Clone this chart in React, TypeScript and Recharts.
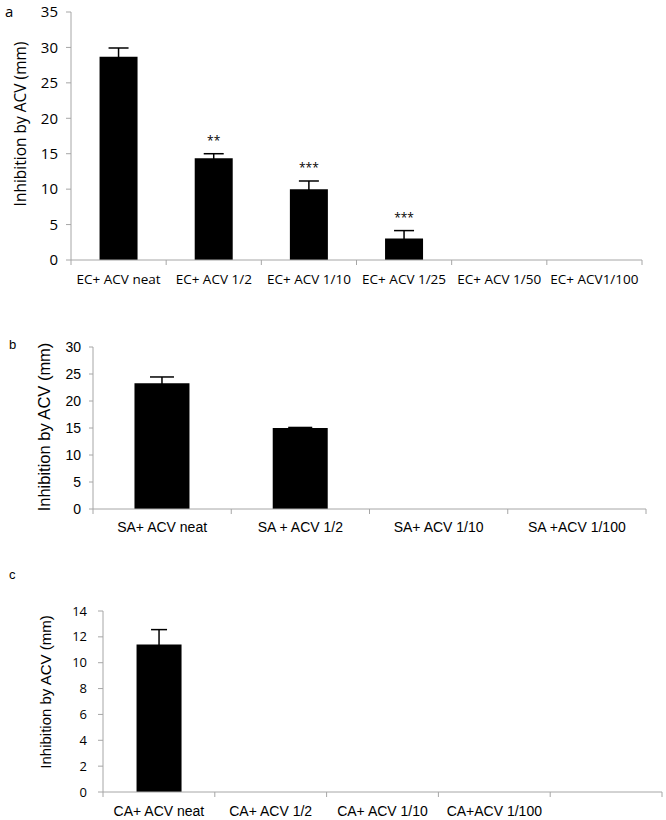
import React from 'react';
import { BarChart, Bar, XAxis, YAxis, ErrorBar, LabelList, Label } from 'recharts';

// panel a: E. coli
const catsA = ['EC+ ACV neat', 'EC+ ACV 1/2', 'EC+ ACV 1/10', 'EC+ ACV 1/25', 'EC+ ACV 1/50', 'EC+ ACV1/100'];
const valsA = [28.7, 14.35, 10.0, 3.05, 0, 0];
const errsA = [1.22, 0.65, 1.15, 1.1, null, null];
const sigA = ['', '**', '***', '***', '', ''];
const ticksA = [0, 5, 10, 15, 20, 25, 30, 35];

// panel b: S. aureus
const catsB = ['SA+ ACV neat', 'SA + ACV 1/2', 'SA+ ACV 1/10', 'SA +ACV 1/100'];
const valsB = [23.3, 15.0, 0, 0];
const errsB = [1.15, 0.1, null, null];
const ticksB = [0, 5, 10, 15, 20, 25, 30];

// panel c: C. albicans
const catsC = ['CA+ ACV neat', 'CA+ ACV 1/2', 'CA+ ACV 1/10', 'CA+ACV 1/100', ''];
const valsC = [11.4, 0, 0, 0, null];
const errsC = [1.16, null, null, null, null];
const ticksC = [0, 2, 4, 6, 8, 10, 12, 14];

const AXIS = '#a6a6a6';
const CALIBRI = 'Open Sans, sans-serif';
const ARIAL = 'Liberation Sans, Arial, sans-serif';
const YLABEL = 'Inhibition by ACV (mm)';

const dataA = catsA.map((name, i) => ({ name, value: valsA[i], err: errsA[i], sig: sigA[i] }));
const dataB = catsB.map((name, i) => ({ name, value: valsB[i], err: errsB[i] }));
const dataC = catsC.map((name, i) => ({ name, value: valsC[i], err: errsC[i] }));

// category ticks sit on the band edges, like Excel
const xTick = (band: number, n: number, family: string, size: number, dy: number) => (props: any) => {
  const { x, y, payload, index } = props;
  return (
    <g>
      <line x1={x - band / 2} x2={x - band / 2} y1={y} y2={y + 5} stroke={AXIS} />
      {index === n - 1 && <line x1={x + band / 2} x2={x + band / 2} y1={y} y2={y + 5} stroke={AXIS} />}
      <text x={x} y={y + dy} textAnchor="middle" fontFamily={family} fontSize={size} fill="#000">
        {payload.value}
      </text>
    </g>
  );
};

const starLabel = (vals: (number | null)[], errs: (number | null)[]) => (props: any) => {
  const { x, y, width, height, value, index } = props;
  if (!value) return null;
  const v = vals[index] || 1;
  const top = y - (errs[index] ?? 0) * (height / v);
  return (
    <text x={x + width / 2} y={top - 9} textAnchor="middle" fontFamily={CALIBRI} fontSize={12} fill="#000">
      {value}
    </text>
  );
};

const yLabel = (cx: number, cy: number, family: string, size: number) => () => (
  <text
    x={cx}
    y={cy}
    transform={`rotate(-90, ${cx}, ${cy})`}
    textAnchor="middle"
    dominantBaseline="central"
    fontFamily={family}
    fontSize={size}
    fill="#000"
  >
    {YLABEL}
  </text>
);

export default function App() {
  return (
    <div style={{ position: 'absolute', left: 0, top: 0, width: 666, height: 820, background: '#fff' }}>
      <div style={{ position: 'absolute', left: 0, top: 0 }}>
        <BarChart width={666} height={300} data={dataA} margin={{ top: 12, right: 24, bottom: 0, left: 0 }} barCategoryGap="30%">
          <XAxis
            dataKey="name"
            height={40}
            interval={0}
            stroke={AXIS}
            tickLine={false}
            tickSize={0}
            tickMargin={0}
            tick={xTick(571 / 6, 6, CALIBRI, 13.5, 24)}
          />
          <YAxis
            width={71}
            domain={[0, 35]}
            ticks={ticksA}
            stroke={AXIS}
            tickSize={5}
            tickMargin={8}
            tick={{ fill: '#000', fontFamily: CALIBRI, fontSize: 15 }}
          >
            <Label content={yLabel(20, 124, CALIBRI, 15.5)} />
          </YAxis>
          <Bar dataKey="value" fill="#000" isAnimationActive={false}>
            <ErrorBar dataKey="err" width={10} stroke="#000" strokeWidth={1.5} />
            <LabelList dataKey="sig" content={starLabel(valsA, errsA)} />
          </Bar>
        </BarChart>
      </div>

      <div style={{ position: 'absolute', left: 0, top: 320 }}>
        <BarChart width={666} height={230} data={dataB} margin={{ top: 27, right: 20, bottom: 0, left: 0 }} barCategoryGap="30%">
          <XAxis
            dataKey="name"
            height={41}
            interval={0}
            stroke={AXIS}
            tickLine={false}
            tickSize={0}
            tickMargin={0}
            tick={xTick(553 / 4, 4, ARIAL, 14, 23)}
          />
          <YAxis
            width={93}
            domain={[0, 30]}
            ticks={ticksB}
            stroke={AXIS}
            tickSize={4}
            tickMargin={8}
            tick={{ fill: '#000', fontFamily: ARIAL, fontSize: 14 }}
          >
            <Label content={yLabel(44, 107, ARIAL, 16.5)} />
          </YAxis>
          <Bar dataKey="value" fill="#000" isAnimationActive={false}>
            <ErrorBar dataKey="err" width={12} stroke="#000" strokeWidth={1.5} />
          </Bar>
        </BarChart>
      </div>

      <div style={{ position: 'absolute', left: 0, top: 560 }}>
        <BarChart width={666} height={260} data={dataC} margin={{ top: 51, right: 4, bottom: 0, left: 0 }} barCategoryGap="30%">
          <XAxis
            dataKey="name"
            height={28}
            interval={0}
            stroke={AXIS}
            tickLine={false}
            tickSize={0}
            tickMargin={0}
            tick={xTick(559 / 5, 5, ARIAL, 14, 24)}
          />
          <YAxis
            width={103}
            domain={[0, 14]}
            ticks={ticksC}
            stroke={AXIS}
            tickSize={5}
            tickMargin={11}
            tick={{ fill: '#000', fontFamily: CALIBRI, fontSize: 13 }}
          >
            <Label content={yLabel(45, 132, ARIAL, 15)} />
          </YAxis>
          <Bar dataKey="value" fill="#000" isAnimationActive={false}>
            <ErrorBar dataKey="err" width={8} stroke="#000" strokeWidth={1.5} />
          </Bar>
        </BarChart>
      </div>

      <svg width={666} height={820} style={{ position: 'absolute', left: 0, top: 0, pointerEvents: 'none' }}>
        <text x={5} y={17} fontFamily={CALIBRI} fontSize={15} fill="#000">a</text>
        <text x={9} y={349} fontFamily={ARIAL} fontSize={13} fill="#000">b</text>
        <text x={9} y={579} fontFamily={ARIAL} fontSize={13} fill="#000">c</text>
      </svg>
    </div>
  );
}
